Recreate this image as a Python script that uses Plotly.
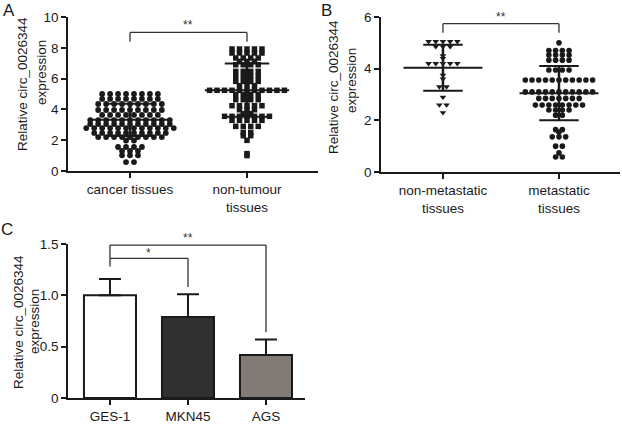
import plotly.graph_objects as go

# ---------------- data ----------------
# Panel A
a_categories = ["cancer tissues", "non-tumour<br>tissues"]
a_cancer = [5.0, 5.0, 5.0, 5.0, 5.0, 5.0, 5.0, 5.0,
            4.68, 4.68, 4.68, 4.68, 4.68, 4.68, 4.68, 4.68,
            4.35, 4.35, 4.35, 4.35, 4.35, 4.35, 4.35, 4.35, 4.35,
            3.96, 3.96, 3.96, 3.96, 3.96, 3.96, 3.96, 3.96, 3.96,
            3.64, 3.64, 3.64, 3.64, 3.64, 3.64, 3.64, 3.64,
            3.31, 3.31, 3.31, 3.31, 3.31, 3.31, 3.31, 3.31, 3.31, 3.31, 3.31,
            3.05, 3.05, 3.05, 3.05, 3.05, 3.05, 3.05, 3.05, 3.05, 3.05, 3.05,
            2.79, 2.79, 2.79, 2.79, 2.79, 2.79, 2.79, 2.79, 2.79, 2.79, 2.79, 2.79,
            2.47, 2.47, 2.47, 2.47, 2.47, 2.47, 2.47, 2.47, 2.47, 2.47,
            2.2, 2.2, 2.2, 2.2, 2.2, 2.2, 2.2, 2.2, 2.2,
            1.98, 1.98,
            1.56, 1.56, 1.56, 1.56,
            1.3, 1.3, 1.3,
            1.02, 1.02, 1.02,
            0.58, 0.58]
a_nontumour = [7.92, 7.92, 7.92, 7.92, 7.92,
               7.66, 7.66, 7.66, 7.66, 7.66,
               7.34, 7.34, 7.34, 7.34,
               7.12, 7.12, 7.12,
               6.9, 6.9, 6.9, 6.9,
               6.47, 6.47, 6.47, 6.47,
               6.15, 6.15, 6.15, 6.15,
               5.82, 5.82, 5.82, 5.82,
               5.54, 5.54, 5.54,
               5.24, 5.24, 5.24, 5.24, 5.24, 5.24, 5.24, 5.24, 5.24, 5.24, 5.24,
               4.96, 4.96, 4.96, 4.96,
               4.63, 4.63, 4.63, 4.63,
               4.24, 4.24, 4.24, 4.24, 4.24,
               3.98, 3.98, 3.98,
               3.72, 3.72,
               3.55, 3.55, 3.55, 3.55, 3.55, 3.55, 3.55,
               3.29, 3.29, 3.29, 3.29, 3.29,
               2.9, 2.9, 2.9, 2.9,
               2.51, 2.51,
               2.29, 2.29,
               1.99,
               1.13,
               1.0]
a_mean = [3.32, 5.25]
a_sd = [1.05, 1.73]

# Panel B
b_categories = ["non-metastatic<br>tissues", "metastatic<br>tissues"]
b_nonmet = [5.05, 5.05, 5.05, 5.05, 5.05,
            4.85, 4.85, 4.85,
            4.5, 4.4,
            4.2, 4.2, 4.2, 4.2, 4.2,
            3.75, 3.6,
            3.3, 3.3,
            2.9,
            2.6, 2.6,
            2.3]
b_met = [5.0,
         4.7, 4.7, 4.7, 4.7,
         4.53, 4.53, 4.53, 4.53,
         4.33, 4.33, 4.33, 4.33,
         3.95, 3.95, 3.95, 3.95,
         3.56, 3.56, 3.56, 3.56, 3.56, 3.56, 3.56, 3.56, 3.56, 3.56, 3.56,
         3.1, 3.1, 3.1, 3.1, 3.1, 3.1, 3.1, 3.1, 3.1, 3.1, 3.1,
         2.85, 2.85, 2.85, 2.85, 2.85, 2.85, 2.85,
         2.59, 2.59, 2.59, 2.59, 2.59, 2.59, 2.59, 2.59,
         2.4, 2.4, 2.4, 2.4,
         2.2, 2.2,
         1.64, 1.64,
         1.55,
         1.36, 1.36, 1.36,
         1.0, 1.0,
         0.74,
         0.58, 0.58]
b_mean = [4.04, 3.05]
b_sd = [0.89, 1.05]

# Panel C
c_categories = ["GES-1", "MKN45", "AGS"]
c_values = [1.0, 0.79, 0.42]
c_errors = [0.16, 0.22, 0.15]
c_colors = ["#ffffff", "#303030", "#827a75"]

# significance brackets: (from category, to category, top, left-leg end, right-leg end, label, label y)
a_brackets = [(0, 1, 9.0, 8.4, 8.4, "**", 9.45)]
b_brackets = [(0, 1, 5.74, 5.39, 5.39, "**", 6.0)]
c_brackets = [(0, 2, 1.49, 1.36, 0.64, "**", 1.56),
              (0, 1, 1.36, 1.28, 1.08, "*", 1.41)]

INK = "#1a1a1a"
FONT = "Arial, Liberation Sans, sans-serif"
W, H = 622, 426


def px(x):
    return x / W


def py(y):
    return 1 - y / H


# axis geometry (pixel domains) and ranges
AX = {
    "x": dict(domain=[px(68), px(318)], range=[-0.53, 1.607]),
    "y": dict(domain=[py(171), py(17)], range=[0, 10]),
    "x2": dict(domain=[px(381), px(620)], range=[-0.534, 1.526]),
    "y2": dict(domain=[py(172), py(17)], range=[0, 6]),
    "x3": dict(domain=[px(68), px(305)], range=[-0.538, 2.5]),
    "y3": dict(domain=[py(398), py(244)], range=[0, 1.5]),
}


def to_paper(axis, v):
    d, r = AX[axis]["domain"], AX[axis]["range"]
    return d[0] + (v - r[0]) / (r[1] - r[0]) * (d[1] - d[0])


def swarm(values, center, dx):
    rows = {}
    for v in values:
        rows.setdefault(v, []).append(v)
    xs, ys = [], []
    for v, pts in rows.items():
        n = len(pts)
        for i in range(n):
            xs.append(center + (i - (n - 1) / 2) * dx)
            ys.append(v)
    return xs, ys


def sd_traces(means, sds, wmean, wcap, xa, ya):
    hx, hy, vx, vy = [], [], [], []
    for i, (m, s) in enumerate(zip(means, sds)):
        hx += [i - wmean, i + wmean, None, i - wcap, i + wcap, None, i - wcap, i + wcap, None]
        hy += [m, m, None, m + s, m + s, None, m - s, m - s, None]
        vx += [i, i, None]
        vy += [m - s, m + s, None]
    return [
        go.Scatter(x=hx, y=hy, mode="lines", line=dict(color=INK, width=2),
                   xaxis=xa, yaxis=ya, hoverinfo="skip"),
        go.Scatter(x=vx, y=vy, mode="lines", line=dict(color=INK, width=2.5),
                   xaxis=xa, yaxis=ya, hoverinfo="skip"),
    ]


fig = go.Figure()

# Panel A
x0, y0 = swarm(a_cancer, 0, 0.068)
fig.add_trace(go.Scatter(x=x0, y=y0, mode="markers", xaxis="x", yaxis="y",
                         marker=dict(symbol="circle", size=5.8, color=INK), cliponaxis=False))
x1, y1 = swarm(a_nontumour, 1, 0.064)
fig.add_trace(go.Scatter(x=x1, y=y1, mode="markers", xaxis="x", yaxis="y",
                         marker=dict(symbol="square", size=5.5, color=INK), cliponaxis=False))
for t in sd_traces(a_mean, a_sd, 0.36, 0.19, "x", "y"):
    fig.add_trace(t)

# Panel B
x0, y0 = swarm(b_nonmet, 0, 0.062)
fig.add_trace(go.Scatter(x=x0, y=y0, mode="markers", xaxis="x2", yaxis="y2",
                         marker=dict(symbol="triangle-down", size=5.8, color=INK), cliponaxis=False))
x1, y1 = swarm(b_met, 1, 0.058)
fig.add_trace(go.Scatter(x=x1, y=y1, mode="markers", xaxis="x2", yaxis="y2",
                         marker=dict(symbol="circle", size=5.6, color=INK), cliponaxis=False))
for t in sd_traces(b_mean, b_sd, 0.34, 0.17, "x2", "y2"):
    fig.add_trace(t)

# Panel C
fig.add_trace(go.Bar(x=list(range(len(c_categories))), y=c_values, width=0.667,
                     xaxis="x3", yaxis="y3",
                     marker=dict(color=c_colors, line=dict(color=INK, width=2)),
                     error_y=dict(type="data", symmetric=False, array=c_errors,
                                  arrayminus=[0] * len(c_values), color=INK,
                                  thickness=2, width=11)))

shapes = []
annotations = []


def add_brackets(brs, xr, yr):
    for a, b, top, la, rb, label, ly in brs:
        shapes.append(dict(type="line", xref=xr, yref=yr, x0=a, x1=b, y0=top, y1=top,
                           line=dict(color="#333", width=1.3)))
        shapes.append(dict(type="line", xref=xr, yref=yr, x0=a, x1=a, y0=top, y1=la,
                           line=dict(color="#333", width=1.3)))
        shapes.append(dict(type="line", xref=xr, yref=yr, x0=b, x1=b, y0=top, y1=rb,
                           line=dict(color="#333", width=1.3)))
        annotations.append(dict(xref="paper", yref="paper",
                                x=to_paper(xr, (a + b) / 2), y=to_paper(yr, ly), text=label,
                                xanchor="center", yanchor="middle",
                                showarrow=False, font=dict(size=12, color="#333", family=FONT)))


add_brackets(a_brackets, "x", "y")
add_brackets(b_brackets, "x2", "y2")
add_brackets(c_brackets, "x3", "y3")

# panel letters
for letter, lx, ly in [("A", 9, 10), ("B", 326, 10), ("C", 7, 229)]:
    annotations.append(dict(xref="paper", yref="paper", x=px(lx), y=py(ly), text=letter,
                            xanchor="center", yanchor="middle",
                            showarrow=False, font=dict(size=17, color=INK, family=FONT)))

# y titles
for txt, lx, ly in [("Relative circ_0026344", 23, 84), ("expression", 41, 72),
                    ("Relative circ_0026344", 334, 87), ("expression", 352, 81),
                    ("Relative circ_0026344", 18, 322), ("expression", 34, 322)]:
    annotations.append(dict(xref="paper", yref="paper", x=px(lx), y=py(ly), text=txt,
                            textangle=-90, showarrow=False,
                            xanchor="center", yanchor="middle",
                            font=dict(size=13.5, color=INK, family=FONT)))

common = dict(showgrid=False, zeroline=False, showline=True, linecolor=INK, linewidth=1.6,
              ticks="outside", ticklen=5, tickwidth=1.5, tickcolor=INK, automargin=False,
              tickfont=dict(size=13.5, color=INK, family=FONT), fixedrange=True)

fig.update_layout(
    width=W, height=H, margin=dict(l=0, r=0, t=0, b=0, pad=0, autoexpand=False),
    paper_bgcolor="white", plot_bgcolor="rgba(0,0,0,0)", showlegend=False,
    font=dict(family=FONT, size=13.5, color=INK),
    xaxis=dict(anchor="y", tickvals=[0, 1], ticktext=a_categories, **AX["x"], **common),
    yaxis=dict(anchor="x", tickvals=[0, 2, 4, 6, 8, 10], **AX["y"], **common),
    xaxis2=dict(anchor="y2", tickvals=[0, 1], ticktext=b_categories, **AX["x2"], **common),
    yaxis2=dict(anchor="x2", tickvals=[0, 2, 4, 6], **AX["y2"], **common),
    xaxis3=dict(anchor="y3", tickvals=[0, 1, 2], ticktext=c_categories, **AX["x3"], **common),
    yaxis3=dict(anchor="x3", tickvals=[0, 0.5, 1.0, 1.5], ticktext=["0", "0.5", "1.0", "1.5"],
                **AX["y3"], **common),
    shapes=shapes, annotations=annotations,
)

fig.write_html("out.html", config={"displayModeBar": False},
               post_script="document.body.style.margin='0px';document.body.style.overflow='hidden';")
